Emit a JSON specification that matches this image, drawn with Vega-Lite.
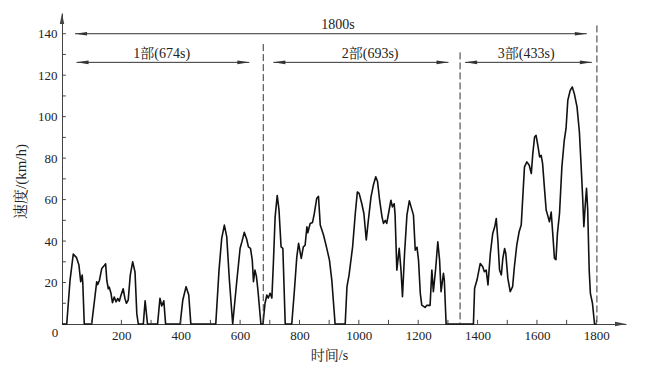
{
  "$schema": "https://vega.github.io/schema/vega-lite/v6.json",
  "width": 564,
  "height": 311,
  "autosize": {"type": "none"},
  "padding": {"left": 62, "top": 13, "right": 22, "bottom": 50},
  "background": "white",
  "config": {
    "view": {"stroke": null},
    "font": "'Liberation Serif', 'Noto Serif CJK SC', 'Noto Sans CJK SC', serif",
    "axis": {
      "grid": false,
      "domainColor": "#444",
      "tickColor": "#444",
      "labelColor": "#222",
      "titleColor": "#222",
      "labelFont": "'Liberation Serif', serif",
      "titleFont": "'Liberation Serif', 'Noto Serif CJK SC', 'Noto Sans CJK SC', serif",
      "labelFontSize": 13,
      "titleFontWeight": "normal",
      "ticks": false
    }
  },
  "datasets": {
    "speed": [
      {"t": 0, "v": 0}, {"t": 16, "v": 0}, {"t": 27, "v": 21}, {"t": 38, "v": 33.7}, {"t": 49, "v": 32}, {"t": 57, "v": 28.4}, {"t": 63, "v": 20.4}, {"t": 68, "v": 23.6}, {"t": 70, "v": 20}, {"t": 75, "v": 0},
      {"t": 100, "v": 0}, {"t": 117, "v": 20.4}, {"t": 120, "v": 19}, {"t": 126, "v": 21}, {"t": 134, "v": 26.8}, {"t": 143, "v": 28.3}, {"t": 147, "v": 29}, {"t": 151, "v": 21}, {"t": 156, "v": 17}, {"t": 159, "v": 17.8}, {"t": 165, "v": 14.8}, {"t": 170, "v": 10.3}, {"t": 176, "v": 13}, {"t": 182, "v": 10.7}, {"t": 188, "v": 12.3}, {"t": 193, "v": 11}, {"t": 199, "v": 14}, {"t": 206, "v": 17}, {"t": 212, "v": 12.3}, {"t": 217, "v": 10}, {"t": 223, "v": 11.5}, {"t": 230, "v": 23.6}, {"t": 238, "v": 30}, {"t": 246, "v": 25}, {"t": 252, "v": 5}, {"t": 257, "v": 0},
      {"t": 274, "v": 0}, {"t": 280, "v": 11.2}, {"t": 288, "v": 0},
      {"t": 322, "v": 0}, {"t": 330, "v": 12.4}, {"t": 336, "v": 8.7}, {"t": 343, "v": 11.2}, {"t": 349, "v": 0},
      {"t": 398, "v": 0}, {"t": 407, "v": 11.6}, {"t": 418, "v": 18}, {"t": 427, "v": 14}, {"t": 434, "v": 0},
      {"t": 518, "v": 0}, {"t": 529, "v": 26}, {"t": 538, "v": 41.3}, {"t": 547, "v": 47.7}, {"t": 555, "v": 42}, {"t": 564, "v": 21}, {"t": 575, "v": 0},
      {"t": 589, "v": 21}, {"t": 600, "v": 36.5}, {"t": 606, "v": 39.6}, {"t": 614, "v": 44.2}, {"t": 622, "v": 41}, {"t": 628, "v": 37.2}, {"t": 635, "v": 36.5}, {"t": 641, "v": 30.8}, {"t": 645, "v": 20.4}, {"t": 650, "v": 26}, {"t": 655, "v": 23}, {"t": 660, "v": 16.4}, {"t": 670, "v": 0},
      {"t": 677, "v": 0}, {"t": 684, "v": 10}, {"t": 690, "v": 14}, {"t": 695, "v": 12.5}, {"t": 701, "v": 14.8}, {"t": 707, "v": 12.5}, {"t": 712, "v": 29}, {"t": 718, "v": 51.7}, {"t": 725, "v": 62}, {"t": 731, "v": 55}, {"t": 738, "v": 37.2}, {"t": 744, "v": 36.5}, {"t": 752, "v": 0},
      {"t": 774, "v": 0}, {"t": 783, "v": 16.4}, {"t": 791, "v": 32.4}, {"t": 797, "v": 38.9}, {"t": 806, "v": 31.6}, {"t": 813, "v": 37.2}, {"t": 819, "v": 38}, {"t": 825, "v": 46.9}, {"t": 828, "v": 44}, {"t": 836, "v": 48.5}, {"t": 844, "v": 49}, {"t": 850, "v": 53.3}, {"t": 858, "v": 60.5}, {"t": 864, "v": 61.6}, {"t": 870, "v": 47.7}, {"t": 881, "v": 42.9}, {"t": 892, "v": 36.5}, {"t": 901, "v": 30.8}, {"t": 909, "v": 21}, {"t": 920, "v": 0},
      {"t": 954, "v": 0}, {"t": 960, "v": 18}, {"t": 967, "v": 23.6}, {"t": 979, "v": 37.2}, {"t": 988, "v": 53.3}, {"t": 995, "v": 63.7}, {"t": 1001, "v": 63}, {"t": 1010, "v": 58}, {"t": 1017, "v": 53.3}, {"t": 1025, "v": 40.5}, {"t": 1032, "v": 50}, {"t": 1041, "v": 61.3}, {"t": 1049, "v": 67}, {"t": 1057, "v": 71}, {"t": 1063, "v": 68.7}, {"t": 1070, "v": 59.7}, {"t": 1078, "v": 51.7}, {"t": 1083, "v": 48.5}, {"t": 1089, "v": 50}, {"t": 1094, "v": 48.5}, {"t": 1100, "v": 53.3}, {"t": 1108, "v": 59.7}, {"t": 1113, "v": 56.5}, {"t": 1119, "v": 58}, {"t": 1122, "v": 53}, {"t": 1128, "v": 26}, {"t": 1136, "v": 36.5}, {"t": 1142, "v": 26}, {"t": 1147, "v": 13.2}, {"t": 1154, "v": 34}, {"t": 1162, "v": 52.5}, {"t": 1170, "v": 59.4}, {"t": 1176, "v": 56.5}, {"t": 1184, "v": 52.5}, {"t": 1190, "v": 35.6}, {"t": 1196, "v": 37}, {"t": 1201, "v": 30.8}, {"t": 1207, "v": 14.8}, {"t": 1212, "v": 9.1}, {"t": 1223, "v": 8}, {"t": 1229, "v": 9}, {"t": 1240, "v": 9}, {"t": 1246, "v": 26}, {"t": 1251, "v": 15.6}, {"t": 1259, "v": 27}, {"t": 1266, "v": 39.6}, {"t": 1272, "v": 30.8}, {"t": 1277, "v": 15.6}, {"t": 1285, "v": 24.4}, {"t": 1288, "v": 21}, {"t": 1294, "v": 0},
      {"t": 1386, "v": 0}, {"t": 1390, "v": 17.2}, {"t": 1398, "v": 21.2}, {"t": 1409, "v": 29.2}, {"t": 1417, "v": 27.7}, {"t": 1423, "v": 25.2}, {"t": 1429, "v": 26}, {"t": 1435, "v": 18.8}, {"t": 1443, "v": 34}, {"t": 1451, "v": 43.7}, {"t": 1458, "v": 47}, {"t": 1463, "v": 50.9}, {"t": 1469, "v": 38.9}, {"t": 1474, "v": 26}, {"t": 1480, "v": 23.7}, {"t": 1485, "v": 31.6}, {"t": 1491, "v": 36.4}, {"t": 1495, "v": 34}, {"t": 1502, "v": 22}, {"t": 1510, "v": 15.6}, {"t": 1518, "v": 18}, {"t": 1524, "v": 27.6}, {"t": 1532, "v": 38}, {"t": 1540, "v": 44.5}, {"t": 1547, "v": 47.7}, {"t": 1553, "v": 63}, {"t": 1558, "v": 75.8}, {"t": 1566, "v": 78.2}, {"t": 1574, "v": 76.6}, {"t": 1581, "v": 72.6}, {"t": 1586, "v": 82.2}, {"t": 1592, "v": 90.2}, {"t": 1597, "v": 91}, {"t": 1603, "v": 86.2}, {"t": 1609, "v": 80.6}, {"t": 1614, "v": 81.4}, {"t": 1619, "v": 77.5}, {"t": 1625, "v": 66}, {"t": 1631, "v": 55}, {"t": 1636, "v": 52.5}, {"t": 1642, "v": 49.3}, {"t": 1648, "v": 54}, {"t": 1654, "v": 42}, {"t": 1659, "v": 31.6}, {"t": 1664, "v": 31}, {"t": 1669, "v": 43.7}, {"t": 1676, "v": 53.3}, {"t": 1684, "v": 75.8}, {"t": 1692, "v": 88.6}, {"t": 1698, "v": 94.3}, {"t": 1704, "v": 107.9}, {"t": 1712, "v": 112.7}, {"t": 1719, "v": 114.3}, {"t": 1726, "v": 111}, {"t": 1735, "v": 104.7}, {"t": 1743, "v": 92.6}, {"t": 1749, "v": 75.8}, {"t": 1754, "v": 61}, {"t": 1758, "v": 46.9}, {"t": 1763, "v": 58}, {"t": 1767, "v": 65.4}, {"t": 1771, "v": 55}, {"t": 1776, "v": 26}, {"t": 1780, "v": 14.8}, {"t": 1787, "v": 10}, {"t": 1794, "v": 0}, {"t": 1800, "v": 0}
    ],
    "xticks": [
      {"t": 100}, {"t": 200}, {"t": 300}, {"t": 400}, {"t": 500}, {"t": 600}, {"t": 700}, {"t": 800}, {"t": 900},
      {"t": 1000}, {"t": 1100}, {"t": 1200}, {"t": 1300}, {"t": 1400}, {"t": 1500}, {"t": 1600}, {"t": 1700}, {"t": 1800}
    ],
    "yticks": [
      {"v": 10}, {"v": 20}, {"v": 30}, {"v": 40}, {"v": 50}, {"v": 60}, {"v": 70},
      {"v": 80}, {"v": 90}, {"v": 100}, {"v": 110}, {"v": 120}, {"v": 130}, {"v": 140}
    ],
    "spans": [
      {"start": 44, "end": 1768, "v": 140},
      {"start": 49, "end": 631, "v": 126.2},
      {"start": 712, "end": 1302, "v": 126.2},
      {"start": 1358, "end": 1785, "v": 126.2}
    ],
    "bounds": [
      {"t": 678, "top": 135},
      {"t": 1341, "top": 131},
      {"t": 1802, "top": 144}
    ],
    "notes": [
      {"t": 930, "v": 144, "text": "1800s"},
      {"t": 336, "v": 130, "text": "1部(674s)"},
      {"t": 1038, "v": 130, "text": "2部(693s)"},
      {"t": 1564, "v": 130, "text": "3部(433s)"}
    ],
    "axisEnds": [
      {"t": 0, "v": 150, "side": "up"},
      {"t": 1900, "v": 0, "side": "xend"}
    ]
  },
  "layer": [
    {
      "data": {"name": "speed"},
      "mark": {"type": "line", "color": "#111", "strokeWidth": 1.6, "strokeJoin": "round"},
      "encoding": {
        "x": {
          "field": "t", "type": "quantitative",
          "scale": {"domain": [0, 1900], "nice": false, "zero": false},
          "axis": {
            "values": [200, 400, 600, 800, 1000, 1200, 1400, 1600, 1800],
            "format": "d",
            "labelPadding": 5,
            "title": "时间/s",
            "titleFontSize": 14,
            "titleX": 267,
            "titleY": 31,
            "titleBaseline": "middle"
          }
        },
        "y": {
          "field": "v", "type": "quantitative",
          "scale": {"domain": [0, 150], "nice": false},
          "axis": {
            "values": [20, 40, 60, 80, 100, 120, 140],
            "labelPadding": 5,
            "title": "速度/(km/h)",
            "titleFontSize": 15,
            "titleX": -42,
            "titleY": 168,
            "titleAngle": -90,
            "titleBaseline": "middle"
          }
        }
      }
    },
    {
      "data": {"name": "xticks"},
      "mark": {"type": "rule", "color": "#444", "strokeWidth": 1},
      "encoding": {
        "x": {"field": "t", "type": "quantitative"},
        "y": {"datum": 0},
        "y2": {"datum": 2}
      }
    },
    {
      "data": {"name": "yticks"},
      "mark": {"type": "rule", "color": "#444", "strokeWidth": 1},
      "encoding": {
        "y": {"field": "v", "type": "quantitative"},
        "x": {"datum": 0},
        "x2": {"datum": 13}
      }
    },
    {
      "data": {"name": "bounds"},
      "mark": {"type": "rule", "color": "#333", "strokeWidth": 1, "strokeDash": [7, 3]},
      "encoding": {
        "x": {"field": "t", "type": "quantitative"},
        "y": {"field": "top", "type": "quantitative"},
        "y2": {"datum": 0}
      }
    },
    {
      "data": {"name": "spans"},
      "mark": {"type": "rule", "color": "#333", "strokeWidth": 1},
      "encoding": {
        "x": {"field": "start", "type": "quantitative"},
        "x2": {"field": "end"},
        "y": {"field": "v", "type": "quantitative"}
      }
    },
    {
      "data": {"name": "spans"},
      "transform": [{"fold": ["start", "end"], "as": ["side", "t"]}],
      "mark": {"type": "point", "filled": true, "color": "#333", "size": 4, "opacity": 1},
      "encoding": {
        "x": {"field": "t", "type": "quantitative"},
        "y": {"field": "v", "type": "quantitative"},
        "shape": {
          "field": "side", "type": "nominal", "legend": null,
          "scale": {"domain": ["start", "end", "up", "xend"], "range": ["M0,0 L12,-1.8 L12,1.8 Z", "M0,0 L-12,-1.8 L-12,1.8 Z", "M0,0 L-2.2,11 L2.2,11 Z", "M0,0 L-11,-2.2 L-11,2.2 Z"]}
        }
      }
    },
    {
      "data": {"name": "axisEnds"},
      "mark": {"type": "point", "filled": true, "color": "#444", "size": 4, "opacity": 1},
      "encoding": {
        "x": {"field": "t", "type": "quantitative"},
        "y": {"field": "v", "type": "quantitative"},
        "shape": {
          "field": "side", "type": "nominal", "legend": null,
          "scale": {"domain": ["start", "end", "up", "xend"], "range": ["M0,0 L12,-1.8 L12,1.8 Z", "M0,0 L-12,-1.8 L-12,1.8 Z", "M0,0 L-2.2,11 L2.2,11 Z", "M0,0 L-11,-2.2 L-11,2.2 Z"]}
        }
      }
    },
    {
      "data": {"name": "notes"},
      "mark": {"type": "text", "fontSize": 14, "color": "#222", "align": "center", "baseline": "middle", "font": "'Liberation Serif', 'Noto Serif CJK SC', 'Noto Sans CJK SC', serif"},
      "encoding": {
        "x": {"field": "t", "type": "quantitative"},
        "y": {"field": "v", "type": "quantitative"},
        "text": {"field": "text"}
      }
    },
    {
      "data": {"values": [{"t": -24, "v": -4.5, "text": "0"}]},
      "mark": {"type": "text", "fontSize": 13, "color": "#222", "align": "center", "baseline": "middle", "font": "'Liberation Serif', serif"},
      "encoding": {
        "x": {"field": "t", "type": "quantitative"},
        "y": {"field": "v", "type": "quantitative"},
        "text": {"field": "text"}
      }
    }
  ]
}
